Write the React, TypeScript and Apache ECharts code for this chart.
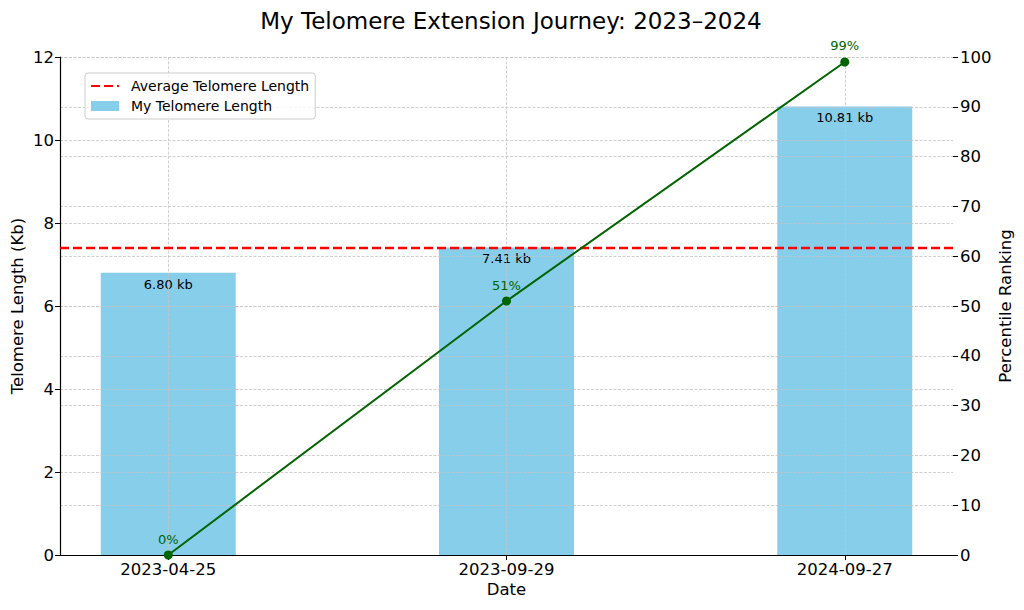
import React, { useEffect, useRef } from "react";
import * as echarts from "echarts";

const DATES = ["2023-04-25", "2023-09-29", "2024-09-27"];
const LENGTHS = [6.8, 7.41, 10.81];
const PERCENTILES = [0, 51, 99];
const AVERAGE = 7.4;
const X_MIN = -0.32;
const X_MAX = 2.32;
const POSITIONS = [0, 1, 2];

const FONT = "DejaVu Sans";
const GRID_LINE = { show: true, lineStyle: { color: "#c4c4c4", width: 0.8, type: [3, 1.5] } };

export default function App() {
  const ref = useRef<HTMLDivElement>(null);
  useEffect(() => {
    if (!ref.current) return;
    const chart = echarts.init(ref.current, undefined, { renderer: "svg" });
    const option: any = {
      animation: false,
      backgroundColor: "#fff",
      textStyle: { fontFamily: FONT },
      title: {
        text: "My Telomere Extension Journey: 2023–2024",
        left: 506,
        top: 4,
        textAlign: "center",
        textStyle: { fontFamily: FONT, fontSize: 23, fontWeight: "normal", color: "#000" },
      },
      legend: {
        left: 85,
        top: 73,
        orient: "vertical",
        itemWidth: 28,
        itemHeight: 10,
        itemGap: 6,
        padding: [6, 6, 6, 5],
        borderColor: "#cccccc",
        borderWidth: 1,
        borderRadius: 3,
        backgroundColor: "rgba(255,255,255,0.8)",
        textStyle: { fontFamily: FONT, fontSize: 14, color: "#000", padding: [0, 0, 0, 7] },
        data: [
          { name: "Average Telomere Length", itemStyle: { color: "rgba(0,0,0,0)", opacity: 0, borderWidth: 0 } },
          { name: "My Telomere Length", icon: "rect" },
        ],
      },
      grid: { left: 60, right: 71, top: 57, bottom: 55, containLabel: false, outerBoundsMode: "none" },
      xAxis: {
        type: "value",
        min: X_MIN,
        max: X_MAX,
        z: 3,
        name: "Date",
        nameLocation: "middle",
        nameGap: 26,
        nameMoveOverlap: false,
        nameTextStyle: { fontFamily: FONT, fontSize: 16.5, color: "#000", verticalAlign: "top" },
        axisLine: { show: true, onZero: false, lineStyle: { color: "#000", width: 1.2 } },
        axisTick: { show: true, length: 5, customValues: POSITIONS, lineStyle: { color: "#000" } },
        axisLabel: {
          customValues: POSITIONS,
          formatter: (v: number) => DATES[Math.round(v)] ?? "",
          fontFamily: FONT,
          fontSize: 16.5,
          color: "#000",
          margin: 6,
        },
        splitLine: GRID_LINE,
      },
      yAxis: [
        {
          type: "value",
          min: 0,
          max: 12,
          interval: 2,
          z: 3,
          name: "Telomere Length (Kb)",
          nameLocation: "middle",
          nameGap: 34,
          nameMoveOverlap: false,
          nameTextStyle: { fontFamily: FONT, fontSize: 16.5, color: "#000" },
          axisLine: { show: true, onZero: false, lineStyle: { color: "#000", width: 1.2 } },
          axisTick: { show: true, length: 5, lineStyle: { color: "#000" } },
          axisLabel: { fontFamily: FONT, fontSize: 16.5, color: "#000", margin: 6 },
          splitLine: GRID_LINE,
        },
        {
          type: "value",
          min: 0,
          max: 100,
          interval: 10,
          z: 3,
          position: "right",
          name: "Percentile Ranking",
          nameLocation: "middle",
          nameGap: 44,
          nameMoveOverlap: false,
          nameTextStyle: { fontFamily: FONT, fontSize: 16.5, color: "#000" },
          axisLine: { show: false, onZero: false },
          axisTick: { show: true, length: 5, lineStyle: { color: "#000" } },
          axisLabel: { fontFamily: FONT, fontSize: 16.5, color: "#000", margin: 7 },
          splitLine: GRID_LINE,
        },
      ],
      series: [
        {
          name: "My Telomere Length",
          type: "bar",
          yAxisIndex: 0,
          z: 2,
          barWidth: 135,
          itemStyle: { color: "#87ceeb" },
          data: POSITIONS.map((p, i) => [p, LENGTHS[i]]),
          label: {
            show: true,
            position: "insideTop",
            distance: 5,
            fontFamily: FONT,
            fontSize: 13,
            color: "#000",
            formatter: (p: any) => `${p.value[1].toFixed(2)} kb`,
          },
        },
        {
          name: "Average Telomere Length",
          type: "line",
          yAxisIndex: 0,
          z: 4,
          symbol: "none",
          silent: true,
          lineStyle: { color: "#ff0000", width: 2.5, type: [9, 4] },
          itemStyle: { color: "#ff0000" },
          data: [
            [X_MIN, AVERAGE],
            [X_MAX, AVERAGE],
          ],
        },
        {
          name: "Percentile",
          type: "line",
          yAxisIndex: 1,
          z: 5,
          symbol: "circle",
          symbolSize: 9,
          clip: false,
          lineStyle: { color: "#006400", width: 2 },
          itemStyle: { color: "#006400" },
          data: POSITIONS.map((p, i) => [p, PERCENTILES[i]]),
          label: {
            show: true,
            position: "top",
            distance: 5,
            fontFamily: FONT,
            fontSize: 13,
            color: "#006400",
            formatter: (p: any) => `${p.value[1]}%`,
          },
        },
      ],
    };
    chart.setOption(option);
    return () => chart.dispose();
  }, []);
  return (
    <div
      ref={ref}
      style={{ position: "fixed", left: 0, top: 0, width: 1024, height: 610 }}
    />
  );
}
